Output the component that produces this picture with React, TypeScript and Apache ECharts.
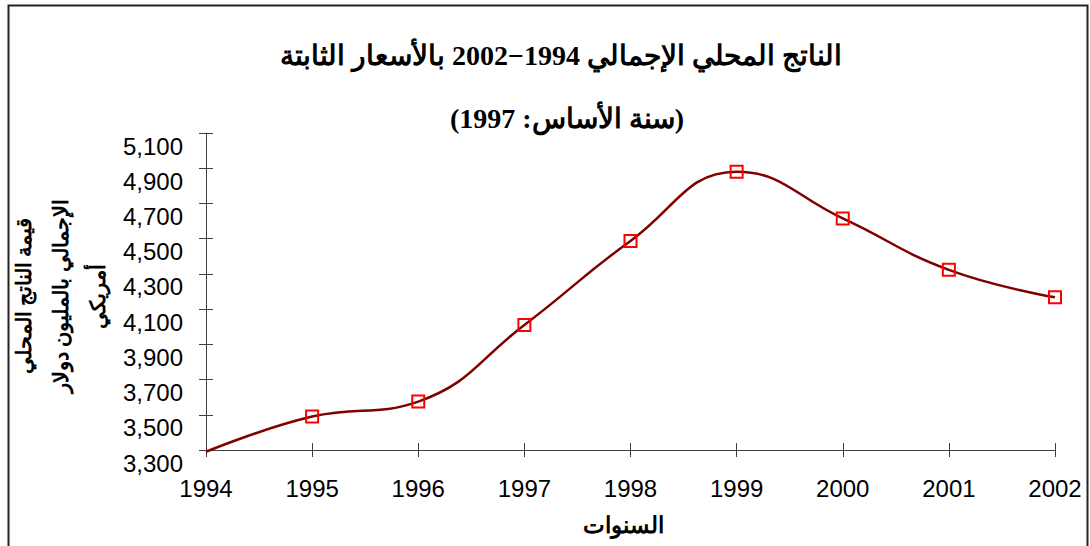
import React, { useEffect, useRef } from "react";
import * as echarts from "echarts";

const years = ["1994", "1995", "1996", "1997", "1998", "1999", "2000", "2001", "2002"];
const gdp = [3290, 3490, 3575, 4010, 4487, 4880, 4615, 4323, 4167];
const titleLine1 = "الناتج المحلي الإجمالي 1994−2002 بالأسعار الثابتة";
const titleLine2 = "(سنة الأساس: 1997)";
const yNameLines = ["قيمة الناتج المحلي", "الإجمالي بالمليون دولار", "أمريكي"];
const xName = "السنوات";

const serif = "'Times New Roman', 'Liberation Serif', 'DejaVu Serif', serif";
const sans = "Arial, 'Liberation Sans', sans-serif";

export default function App() {
  const ref = useRef<HTMLDivElement>(null);
  useEffect(() => {
    if (!ref.current) return;
    const chart = echarts.init(ref.current, null, { renderer: "svg" });
    const yMin = 3300, yMax = 5100, yStep = 200;
    chart.setOption({
      animation: false,
      backgroundColor: "#ffffff",
      title: [
        {
          text: titleLine1,
          left: 556,
          textAlign: "center",
          top: 34,
          textStyle: { fontFamily: serif, fontWeight: "bold", fontSize: 28, color: "#000", lineHeight: 32 },
        },
        {
          text: titleLine2,
          left: 562,
          textAlign: "center",
          top: 97,
          textStyle: { fontFamily: serif, fontWeight: "bold", fontSize: 28, color: "#000", lineHeight: 32 },
        },
      ],
      grid: { left: 206, right: 35, top: 133, bottom: 96, containLabel: false },
      xAxis: [
        {
          type: "category",
          data: years,
          boundaryGap: false,
          name: xName,
          nameLocation: "middle",
          nameGap: 64,
          nameTextStyle: { fontFamily: serif, fontWeight: "bold", fontSize: 23, color: "#000", padding: [0, 14, 0, 0] },
          axisLine: { show: true, lineStyle: { color: "#404040", width: 1 } },
          axisTick: { show: true, alignWithLabel: true, length: 7, inside: false, lineStyle: { color: "#404040" } },
          axisLabel: { fontFamily: sans, fontSize: 24, color: "#000", margin: 26, interval: 0 },
          splitLine: { show: false },
        },
        {
          type: "category",
          data: years,
          boundaryGap: false,
          position: "bottom",
          axisLine: { show: false },
          axisTick: { show: true, inside: true, length: 7, lineStyle: { color: "#404040" } },
          axisLabel: { show: false },
          splitLine: { show: false },
        },
      ],
      yAxis: [
        {
          type: "value",
          min: yMin,
          max: yMax,
          interval: yStep,
          axisLine: { show: true, lineStyle: { color: "#404040", width: 1 } },
          axisTick: { show: true, length: 7, lineStyle: { color: "#404040" } },
          axisLabel: {
            fontFamily: sans,
            fontSize: 24,
            color: "#000",
            margin: 23,
            verticalAlign: "top",
            lineHeight: 26,
            formatter: (v: number) => v.toLocaleString("en-US"),
          },
          splitLine: { show: false },
        },
        {
          type: "value",
          min: yMin,
          max: yMax,
          interval: yStep,
          position: "left",
          axisLine: { show: false },
          axisTick: { show: true, inside: true, length: 7, lineStyle: { color: "#404040" } },
          axisLabel: { show: false },
          splitLine: { show: false },
        },
      ],
      series: [
        {
          type: "line",
          data: gdp.map((v, i) => (i === 0 ? { value: v, symbol: "none" } : v)),
          smooth: 0.45,
          clip: false,
          symbol: "rect",
          symbolSize: 12,
          showSymbol: true,
          lineStyle: { color: "#800000", width: 2.5 },
          itemStyle: { color: "rgba(0,0,0,0)", borderColor: "#FF0000", borderWidth: 2 },
          emphasis: { disabled: true },
          z: 3,
        },
      ],
      graphic: [
        {
          type: "rect",
          shape: { x: 8.5, y: 5.5, width: 1079, height: 600 },
          style: { fill: "none", stroke: "#222", lineWidth: 2 },
          silent: true,
        },
        ...yNameLines.map((t, i) => ({
          type: "text",
          x: 24 + i * 37,
          y: 296,
          rotation: Math.PI / 2,
          style: {
            text: t,
            fontFamily: serif,
            fontWeight: "bold",
            fontSize: 21,
            fill: "#000",
            textAlign: "center",
            textVerticalAlign: "middle",
          },
          silent: true,
        })),
      ],
    });
    return () => chart.dispose();
  }, []);
  return (
    <div
      ref={ref}
      style={{ position: "absolute", left: 0, top: 0, width: 1090, height: 546 }}
    />
  );
}
